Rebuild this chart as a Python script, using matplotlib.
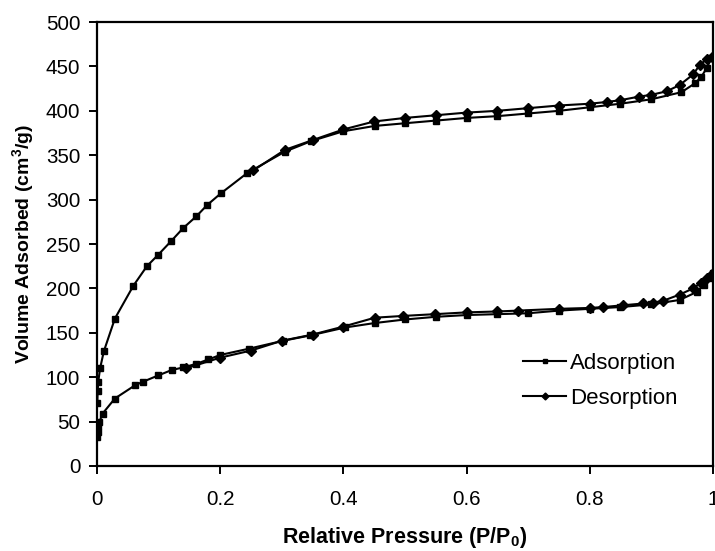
import matplotlib
matplotlib.use('Agg')
import matplotlib.pyplot as plt

plt.rcParams['font.family'] = ['Liberation Sans', 'DejaVu Sans']
plt.rcParams['mathtext.fontset'] = 'custom'
plt.rcParams['mathtext.bf'] = 'Liberation Sans:bold'
plt.rcParams['mathtext.rm'] = 'Liberation Sans:bold'
plt.rcParams['mathtext.default'] = 'bf'

#%% upper isotherm
up_ads_x = [0.0005, 0.001, 0.002, 0.005, 0.011, 0.029, 0.059, 0.081, 0.0995, 0.12,
            0.14, 0.161, 0.179, 0.201, 0.244, 0.305, 0.348, 0.40, 0.451, 0.50,
            0.55, 0.60, 0.65, 0.70, 0.75, 0.80, 0.85, 0.90, 0.949, 0.971,
            0.981, 0.99, 0.998]
up_ads_y = [71, 84, 95, 110, 129, 166, 203, 225, 238, 253,
            268, 281, 294, 307, 330, 354, 366, 377, 383, 386,
            389, 392, 394, 397, 400, 404, 408, 413, 421, 431,
            438, 448, 460]

up_des_x = [0.998, 0.99, 0.979, 0.968, 0.946, 0.925, 0.90, 0.88, 0.85, 0.828,
            0.80, 0.75, 0.70, 0.65, 0.60, 0.55, 0.50, 0.45, 0.40, 0.35,
            0.305, 0.254]
up_des_y = [461, 458, 452, 441, 429, 422, 418, 416, 412, 410,
            408, 406, 403, 400, 398, 395, 392, 388, 379, 367,
            356, 333]

#%% lower isotherm
lo_ads_x = [0.0003, 0.0008, 0.002, 0.004, 0.009, 0.029, 0.062, 0.075, 0.0995, 0.121,
            0.14, 0.161, 0.181, 0.20, 0.246, 0.302, 0.346, 0.403, 0.451, 0.50,
            0.55, 0.60, 0.65, 0.70, 0.75, 0.80, 0.85, 0.90, 0.946, 0.974,
            0.985, 0.995, 1.0]
lo_ads_y = [33, 38, 45, 50, 59, 76, 91, 95, 102, 108,
            111, 115, 120, 125, 132, 141, 147, 156, 161, 165,
            168, 170, 171, 172, 175, 177, 179, 182, 187, 196,
            204, 212, 217]

lo_des_x = [1.0, 0.99, 0.98, 0.968, 0.946, 0.919, 0.903, 0.887, 0.854, 0.822,
            0.80, 0.75, 0.684, 0.649, 0.60, 0.549, 0.497, 0.451, 0.40, 0.35,
            0.30, 0.25, 0.20, 0.145]
lo_des_y = [217, 212, 206, 200, 193, 186, 184, 183, 181, 179,
            178, 177, 175, 174, 173, 171, 169, 167, 157, 148,
            141, 130, 122, 110]

x_ticks = [0, 0.2, 0.4, 0.6, 0.8, 1]
x_tick_labels = ['0', '0.2', '0.4', '0.6', '0.8', '1']
y_ticks = [0, 50, 100, 150, 200, 250, 300, 350, 400, 450, 500]

#%%
fig = plt.figure(figsize=(7.15, 5.51), dpi=100)
ax = fig.add_axes([0.1357, 0.1543, 0.8613, 0.8057])

ads_style = dict(color='black', lw=1.5, marker='s', ms=5)
des_style = dict(color='black', lw=1.5, marker='D', ms=5)

ax.plot(up_ads_x, up_ads_y, label='Adsorption', **ads_style)
ax.plot(up_des_x, up_des_y, label='Desorption', **des_style)
ax.plot(lo_ads_x, lo_ads_y, **ads_style)
ax.plot(lo_des_x, lo_des_y, **des_style)

ax.set_xlim(0, 1)
ax.set_ylim(0, 500)
ax.set_xticks(x_ticks)
ax.set_xticklabels(x_tick_labels)
ax.set_yticks(y_ticks)
ax.tick_params(direction='out', length=6, width=1.4, labelsize=14.8, pad=6,
               top=False, right=False)
ax.tick_params(axis='x', pad=11)
for s in ax.spines.values():
    s.set_linewidth(1.6)

ax.set_xlabel('Relative Pressure (P/P$_0$)', fontsize=15.5, fontweight='bold', labelpad=12)
ax.set_ylabel('Volume Adsorbed (cm$^3$/g)', fontsize=14, fontweight='bold', labelpad=7)

leg = ax.legend(loc='upper left', bbox_to_anchor=(0.66, 0.30), frameon=False,
                fontsize=16, handlelength=1.9, handletextpad=0.2,
                labelspacing=0.62, markerscale=0.7)

fig.savefig('out.png', dpi=100)
